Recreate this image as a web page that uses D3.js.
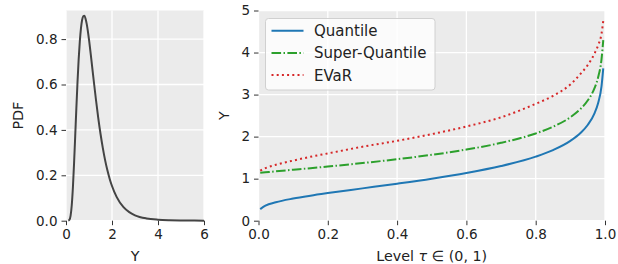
<!DOCTYPE html>
<html>
<head>
<meta charset="utf-8">
<script src="https://cdn.jsdelivr.net/npm/d3@7"></script>
<style>
  html, body { margin: 0; padding: 0; background: #fff; }
  svg, svg text { display: block; font-family: "DejaVu Sans", sans-serif; }
</style>
</head>
<body>
<div id="chart"></div>
<script>
// left panel: density of Y
const pdfX = [0.1, 0.15, 0.2, 0.25, 0.3, 0.35, 0.4, 0.45, 0.5, 0.55, 0.6, 0.65, 0.7, 0.75, 0.8, 0.85, 0.9, 1.0, 1.1, 1.2, 1.3, 1.4, 1.5, 1.6, 1.7, 1.8, 1.9, 2.0, 2.2, 2.5, 2.75, 3.0, 3.5, 4.0, 4.5, 5.0, 6.0];
const pdfY = [0.0002, 0.004, 0.0225, 0.068, 0.146, 0.252, 0.372, 0.495, 0.610, 0.710, 0.789, 0.847, 0.884, 0.901, 0.903, 0.890, 0.867, 0.798, 0.712, 0.622, 0.535, 0.454, 0.383, 0.321, 0.267, 0.222, 0.184, 0.153, 0.105, 0.0595, 0.0375, 0.0238, 0.0099, 0.0043, 0.0019, 0.0009, 0.0002];

// right panel: risk measures vs level tau
const levels = [0.005, 0.02, 0.05, 0.1, 0.15, 0.2, 0.3, 0.4, 0.5, 0.6, 0.7, 0.8, 0.85, 0.9, 0.93, 0.95, 0.97, 0.98, 0.99, 0.995];
const quantile = [0.276, 0.358, 0.439, 0.527, 0.596, 0.657, 0.769, 0.881, 1.0, 1.135, 1.300, 1.523, 1.679, 1.898, 2.092, 2.276, 2.561, 2.793, 3.2, 3.625];
const superQuantile = [1.138, 1.150, 1.174, 1.212, 1.250, 1.289, 1.371, 1.462, 1.567, 1.692, 1.852, 2.075, 2.235, 2.461, 2.664, 2.858, 3.160, 3.405, 3.845, 4.294];
const evar = [1.19, 1.25, 1.33, 1.43, 1.52, 1.60, 1.76, 1.90, 2.06, 2.24, 2.46, 2.78, 2.97, 3.24, 3.50, 3.70, 3.98, 4.17, 4.45, 4.75];

const seriesNames = ["Quantile", "Super-Quantile", "EVaR"];
const pdfTicksX = [0, 2, 4, 6];
const pdfTicksY = [0, 0.2, 0.4, 0.6, 0.8];
const levelTicks = [0, 0.2, 0.4, 0.6, 0.8, 1.0];
const riskTicks = [0, 1, 2, 3, 4, 5];

const width = 618,
  height = 264;

const bg = "#ebebeb";
const font = "DejaVu Sans";
const fontSize = 13.5;
const labelSize = 14.3;

const svg = d3
  .select("#chart")
  .append("svg")
  .attr("width", width)
  .attr("height", height);

function panel(xs, ys, xticks, yticks, xfmt, yfmt) {
  const g = svg.append("g");
  g.append("rect")
    .attr("x", xs.range()[0])
    .attr("y", ys.range()[1])
    .attr("width", xs.range()[1] - xs.range()[0])
    .attr("height", ys.range()[0] - ys.range()[1])
    .attr("fill", bg);

  // grid
  g.selectAll(".gx")
    .data(xticks)
    .enter()
    .append("line")
    .attr("x1", (d) => xs(d))
    .attr("x2", (d) => xs(d))
    .attr("y1", ys.range()[0])
    .attr("y2", ys.range()[1])
    .attr("stroke", "#fff")
    .attr("stroke-width", 1.3);
  g.selectAll(".gy")
    .data(yticks)
    .enter()
    .append("line")
    .attr("y1", (d) => ys(d))
    .attr("y2", (d) => ys(d))
    .attr("x1", xs.range()[0])
    .attr("x2", xs.range()[1])
    .attr("stroke", "#fff")
    .attr("stroke-width", 1.3);

  const xAxis = g
    .append("g")
    .attr("transform", `translate(0,${ys.range()[0]})`)
    .call(d3.axisBottom(xs).tickValues(xticks).tickFormat(xfmt).tickSize(4.5).tickPadding(4));
  const yAxis = g
    .append("g")
    .attr("transform", `translate(${xs.range()[0]},0)`)
    .call(d3.axisLeft(ys).tickValues(yticks).tickFormat(yfmt).tickSize(4.5).tickPadding(4));

  [xAxis, yAxis].forEach((a) => {
    a.attr("font-family", font);
    a.select(".domain").remove();
    a.selectAll("line").attr("stroke", "#333");
    a.selectAll("text")
      .attr("fill", "#222")
      .style("font-size", fontSize + "px")
      .style("font-family", font);
  });
  return g;
}

function label(g, text) {
  return g.append("text")
    .attr("text-anchor", "middle")
    .style("font-size", labelSize + "px")
    .style("font-family", font)
    .attr("fill", "#222")
    .text(text);
}

// ---- left panel
const x1 = d3.scaleLinear().domain([0, 6]).range([66, 204]);
const y1 = d3.scaleLinear().domain([0, 0.926]).range([220.7, 10.5]);
const left = panel(x1, y1, pdfTicksX, pdfTicksY, d3.format("d"), d3.format(".1f"));

left.append("path")
  .datum(pdfX.map((x, i) => [x, pdfY[i]]))
  .attr("fill", "none")
  .attr("stroke", "#444")
  .attr("stroke-width", 2)
  .attr("d", d3.line().x((d) => x1(d[0])).y((d) => y1(d[1])).curve(d3.curveMonotoneX));

label(left, "Y").attr("x", 135).attr("y", 261);
label(left, "PDF").attr("transform", `translate(23,${(10.5 + 220.7) / 2}) rotate(-90)`);

// ---- right panel
const x2 = d3.scaleLinear().domain([0, 1]).range([258.5, 605]);
const y2 = d3.scaleLinear().domain([0, 5]).range([220.7, 10.5]);
const right = panel(x2, y2, levelTicks, riskTicks, d3.format(".1f"), d3.format("d"));

const colors = ["#1f77b4", "#2ca02c", "#d62728"];
const dashes = [null, "9.6,2.4,1.5,2.4", "2,3.2"];
const allSeries = [quantile, superQuantile, evar];

const line = d3
  .line()
  .x((d) => x2(d[0]))
  .y((d) => y2(d[1]))
  .curve(d3.curveMonotoneX);

allSeries.forEach((vals, k) => {
  right.append("path")
    .datum(levels.map((t, i) => [t, vals[i]]))
    .attr("fill", "none")
    .attr("stroke", colors[k])
    .attr("stroke-width", 2)
    .attr("stroke-dasharray", dashes[k])
    .attr("d", line);
});

const xlab = label(right, "").attr("x", x2(0.5)).attr("y", 260.5);
xlab.append("tspan").text("Level ");
xlab.append("tspan").style("font-style", "italic").text("τ");
xlab.append("tspan").text(" ∈ (0, 1)");

label(right, "Y").attr("transform", `translate(229,${(10.5 + 220.7) / 2}) rotate(-90)`);

// legend
const legend = right.append("g").attr("transform", "translate(265.5,18.5)");
legend.append("rect")
  .attr("width", 169.5)
  .attr("height", 71.5)
  .attr("rx", 3)
  .attr("fill", "#fff")
  .attr("fill-opacity", 0.8)
  .attr("stroke", "#d0d0d0")
  .attr("stroke-width", 1);

seriesNames.forEach((name, k) => {
  const row = legend.append("g").attr("transform", `translate(0,${12.2 + k * 22.2})`);
  row.append("line")
    .attr("x1", 6)
    .attr("x2", 38)
    .attr("stroke", colors[k])
    .attr("stroke-width", 2)
    .attr("stroke-dasharray", dashes[k]);
  row.append("text")
    .attr("x", 48.5)
    .attr("dy", "0.36em")
    .style("font-size", "15px")
    .style("font-family", font)
    .attr("fill", "#222")
    .text(name);
});
</script>
</body>
</html>
